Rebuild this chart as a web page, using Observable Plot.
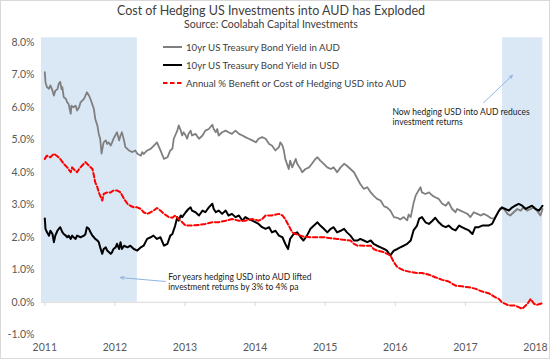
<!DOCTYPE html>
<html><head><meta charset="utf-8">
<script src="https://cdn.jsdelivr.net/npm/d3@7"></script>
<script src="https://cdn.jsdelivr.net/npm/@observablehq/plot@0.6"></script>
<style>
body{margin:0;background:#fff;}
#wrap{position:relative;width:550px;height:359px;font-family:Lato,"Open Sans",sans-serif;overflow:hidden;background:#fff;}
#frame{position:absolute;left:0;top:0;width:548px;height:357px;border:1px solid #d9d9d9;pointer-events:none;}
.t{position:absolute;left:0;width:542px;text-align:center;color:#404040;white-space:nowrap;}
#title{top:3px;font-size:12.5px;line-height:15px;}
#sub{top:18px;font-size:10.5px;line-height:13px;}
.lg{position:absolute;left:163px;height:14px;display:flex;align-items:center;font-size:9.7px;color:#404040;white-space:nowrap;}
.lg svg{margin-right:4px;}
#chart{position:absolute;left:0;top:0;}
</style></head>
<body><div id="wrap">
<div id="chart"></div>
<div class="t" id="title"></div>
<div class="t" id="sub"></div>
<div id="legend"></div>
<div id="frame"></div>
</div>
<script>
const titleText = "Cost of Hedging US Investments into AUD has Exploded";
const subtitleText = "Source: Coolabah Capital Investments";
const seriesNames = ["10yr US Treasury Bond Yield in AUD","10yr US Treasury Bond Yield in USD","Annual % Benefit or Cost of Hedging USD into AUD"];
const yearTicks = [2011,2012,2013,2014,2015,2016,2017,2018];
const pctTicks = [-1,0,1,2,3,4,5,6,7,8];
const shadedPeriods = [[2010.953,2012.32],[2017.53,2018.104]];

const yieldAUD = [[2011.00,7.08],[2011.01,6.77],[2011.03,6.62],[2011.06,6.57],[2011.08,6.67],[2011.11,6.51],[2011.13,6.36],[2011.15,6.51],[2011.18,6.55],[2011.20,6.72],[2011.22,6.78],[2011.24,6.55],[2011.25,6.62],[2011.27,6.31],[2011.30,6.26],[2011.32,6.15],[2011.34,6.10],[2011.37,5.80],[2011.38,6.05],[2011.41,6.00],[2011.44,6.05],[2011.46,5.90],[2011.49,6.00],[2011.51,6.15],[2011.56,6.26],[2011.60,6.46],[2011.63,6.36],[2011.65,6.26],[2011.70,5.95],[2011.72,5.64],[2011.75,5.44],[2011.77,5.18],[2011.79,5.03],[2011.81,4.57],[2011.83,4.82],[2011.84,4.92],[2011.87,4.98],[2011.89,4.87],[2011.91,4.92],[2011.94,4.82],[2011.96,4.92],[2011.98,5.03],[2012.03,5.23],[2012.06,4.98],[2012.08,5.13],[2012.10,5.23],[2012.13,4.98],[2012.15,4.77],[2012.20,4.67],[2012.25,4.62],[2012.29,4.67],[2012.32,4.57],[2012.37,4.51],[2012.39,4.62],[2012.41,4.56],[2012.46,4.67],[2012.51,4.72],[2012.58,4.87],[2012.60,4.92],[2012.63,4.77],[2012.65,4.67],[2012.70,4.41],[2012.75,4.46],[2012.79,4.67],[2012.82,4.72],[2012.84,5.03],[2012.86,5.13],[2012.89,5.28],[2012.91,5.44],[2012.94,5.28],[2012.96,5.13],[2012.98,5.23],[2013.01,5.13],[2013.03,5.03],[2013.05,5.18],[2013.08,5.28],[2013.10,5.13],[2013.15,5.18],[2013.20,5.03],[2013.25,5.13],[2013.29,5.28],[2013.34,5.33],[2013.39,5.46],[2013.41,5.33],[2013.44,5.23],[2013.46,5.33],[2013.48,5.13],[2013.53,5.23],[2013.58,5.28],[2013.62,5.23],[2013.67,5.18],[2013.72,5.28],[2013.77,5.18],[2013.82,5.13],[2013.86,5.08],[2013.91,5.03],[2013.96,4.98],[2014.01,4.92],[2014.05,5.03],[2014.10,5.08],[2014.15,5.03],[2014.20,4.87],[2014.24,4.82],[2014.29,4.67],[2014.34,4.77],[2014.36,4.92],[2014.39,4.82],[2014.41,4.67],[2014.43,4.41],[2014.48,4.10],[2014.50,4.36],[2014.53,4.15],[2014.58,4.41],[2014.60,4.26],[2014.65,4.10],[2014.67,4.00],[2014.72,4.10],[2014.77,4.15],[2014.81,4.26],[2014.86,4.41],[2014.89,4.46],[2014.93,4.36],[2014.98,4.26],[2015.03,4.15],[2015.08,4.10],[2015.12,4.15],[2015.17,4.00],[2015.22,4.15],[2015.27,4.26],[2015.31,4.20],[2015.36,4.10],[2015.41,4.00],[2015.46,3.80],[2015.50,3.64],[2015.55,3.49],[2015.60,3.54],[2015.65,3.38],[2015.69,3.28],[2015.74,3.18],[2015.79,3.13],[2015.84,2.95],[2015.88,2.92],[2015.93,2.82],[2015.98,2.62],[2016.03,2.60],[2016.07,2.55],[2016.12,2.62],[2016.17,2.52],[2016.19,2.70],[2016.22,2.62],[2016.26,3.05],[2016.29,3.28],[2016.34,3.47],[2016.36,3.54],[2016.38,3.38],[2016.43,3.33],[2016.48,3.38],[2016.53,3.28],[2016.57,3.23],[2016.62,3.18],[2016.67,3.03],[2016.72,2.97],[2016.76,3.08],[2016.81,2.87],[2016.86,2.77],[2016.88,2.87],[2016.93,2.82],[2016.98,2.77],[2017.03,2.72],[2017.07,2.62],[2017.12,2.77],[2017.17,2.72],[2017.22,2.67],[2017.26,2.72],[2017.31,2.67],[2017.36,2.59],[2017.41,2.57],[2017.45,2.72],[2017.50,2.89],[2017.55,2.87],[2017.60,2.72],[2017.64,2.67],[2017.69,2.77],[2017.74,2.87],[2017.79,2.82],[2017.83,2.92],[2017.88,2.82],[2017.93,2.87],[2017.98,2.92],[2018.02,2.82],[2018.07,2.67],[2018.10,2.87]];

const yieldUSD = [[2011.00,2.58],[2011.01,2.26],[2011.03,2.16],[2011.06,2.05],[2011.08,2.20],[2011.11,2.10],[2011.13,1.85],[2011.15,2.05],[2011.18,2.20],[2011.20,2.26],[2011.22,2.31],[2011.25,2.16],[2011.27,2.10],[2011.30,2.05],[2011.32,2.00],[2011.34,2.05],[2011.37,1.95],[2011.39,2.05],[2011.41,2.00],[2011.44,1.95],[2011.46,2.05],[2011.51,2.00],[2011.56,2.05],[2011.58,2.10],[2011.60,2.31],[2011.63,2.26],[2011.65,2.16],[2011.68,2.05],[2011.70,2.00],[2011.72,1.95],[2011.75,1.90],[2011.77,1.85],[2011.79,1.69],[2011.82,1.49],[2011.84,1.64],[2011.87,1.69],[2011.89,1.59],[2011.94,1.49],[2011.96,1.54],[2011.98,1.64],[2012.01,1.69],[2012.03,1.80],[2012.06,1.64],[2012.08,1.85],[2012.10,1.64],[2012.13,1.74],[2012.18,1.69],[2012.22,1.74],[2012.27,1.64],[2012.32,1.59],[2012.37,1.69],[2012.41,1.74],[2012.46,1.95],[2012.51,2.00],[2012.55,2.05],[2012.60,1.95],[2012.65,2.00],[2012.70,1.74],[2012.75,1.80],[2012.79,2.05],[2012.82,2.10],[2012.86,2.36],[2012.89,2.62],[2012.91,2.51],[2012.94,2.67],[2012.96,2.62],[2013.01,2.77],[2013.05,2.87],[2013.08,2.92],[2013.10,2.82],[2013.15,2.77],[2013.20,2.67],[2013.25,2.82],[2013.29,2.77],[2013.34,2.92],[2013.39,3.03],[2013.41,2.87],[2013.44,2.77],[2013.48,2.82],[2013.53,2.72],[2013.58,2.82],[2013.62,2.67],[2013.67,2.72],[2013.72,2.62],[2013.77,2.67],[2013.82,2.51],[2013.86,2.62],[2013.91,2.56],[2013.96,2.51],[2014.01,2.46],[2014.05,2.41],[2014.10,2.31],[2014.15,2.26],[2014.20,2.31],[2014.24,2.15],[2014.29,2.20],[2014.34,2.05],[2014.39,2.00],[2014.43,1.80],[2014.47,1.64],[2014.50,1.95],[2014.55,2.10],[2014.60,2.15],[2014.65,2.00],[2014.69,1.90],[2014.74,2.05],[2014.79,2.26],[2014.84,2.36],[2014.89,2.46],[2014.93,2.36],[2014.98,2.26],[2015.03,2.15],[2015.08,2.26],[2015.12,2.31],[2015.17,2.15],[2015.22,2.20],[2015.27,2.26],[2015.31,2.15],[2015.36,2.05],[2015.41,1.90],[2015.46,1.90],[2015.50,1.95],[2015.55,1.90],[2015.60,1.85],[2015.65,1.90],[2015.69,1.80],[2015.74,1.74],[2015.79,1.69],[2015.84,1.64],[2015.88,1.59],[2015.93,1.44],[2015.96,1.54],[2015.98,1.59],[2016.03,1.64],[2016.07,1.69],[2016.12,1.74],[2016.17,1.80],[2016.22,1.90],[2016.26,2.21],[2016.31,2.36],[2016.34,2.57],[2016.38,2.62],[2016.43,2.46],[2016.48,2.41],[2016.53,2.51],[2016.57,2.60],[2016.62,2.46],[2016.67,2.36],[2016.72,2.31],[2016.76,2.36],[2016.81,2.26],[2016.86,2.21],[2016.91,2.36],[2016.95,2.31],[2017.00,2.26],[2017.05,2.21],[2017.10,2.10],[2017.14,2.31],[2017.19,2.31],[2017.24,2.36],[2017.29,2.36],[2017.33,2.36],[2017.38,2.41],[2017.43,2.62],[2017.48,2.82],[2017.52,2.92],[2017.57,2.87],[2017.62,2.82],[2017.67,2.92],[2017.71,2.97],[2017.76,3.03],[2017.81,2.97],[2017.86,2.87],[2017.90,2.92],[2017.95,2.97],[2018.00,2.87],[2018.05,2.82],[2018.10,2.97]];

const hedgeBenefit = [[2011.00,4.41],[2011.03,4.51],[2011.08,4.46],[2011.13,4.57],[2011.18,4.49],[2011.22,4.41],[2011.27,4.26],[2011.32,4.15],[2011.37,4.00],[2011.39,4.15],[2011.41,4.10],[2011.46,4.00],[2011.49,4.10],[2011.53,4.20],[2011.58,4.31],[2011.63,4.20],[2011.68,4.10],[2011.70,3.90],[2011.72,3.69],[2011.75,3.54],[2011.77,3.38],[2011.79,3.28],[2011.82,3.13],[2011.84,3.33],[2011.89,3.38],[2011.94,3.38],[2011.98,3.44],[2012.03,3.44],[2012.08,3.38],[2012.13,3.18],[2012.18,3.03],[2012.22,2.97],[2012.27,2.92],[2012.32,2.92],[2012.37,2.87],[2012.41,2.77],[2012.46,2.72],[2012.51,2.77],[2012.55,2.82],[2012.60,2.90],[2012.65,2.82],[2012.70,2.72],[2012.75,2.65],[2012.77,2.62],[2012.82,2.60],[2012.86,2.67],[2012.91,2.56],[2012.96,2.46],[2013.01,2.36],[2013.05,2.36],[2013.10,2.36],[2013.20,2.38],[2013.29,2.41],[2013.39,2.46],[2013.48,2.46],[2013.58,2.51],[2013.67,2.56],[2013.77,2.51],[2013.86,2.51],[2013.96,2.56],[2014.05,2.51],[2014.10,2.56],[2014.15,2.67],[2014.24,2.67],[2014.34,2.72],[2014.39,2.67],[2014.43,2.56],[2014.48,2.36],[2014.53,2.15],[2014.58,2.10],[2014.65,2.05],[2014.69,2.02],[2014.79,2.00],[2014.89,2.00],[2014.98,2.00],[2015.08,1.97],[2015.17,1.95],[2015.27,1.92],[2015.36,1.90],[2015.41,1.80],[2015.46,1.74],[2015.50,1.75],[2015.55,1.74],[2015.65,1.74],[2015.69,1.64],[2015.74,1.59],[2015.84,1.54],[2015.93,1.44],[2015.98,1.23],[2016.03,1.08],[2016.12,0.98],[2016.22,0.93],[2016.31,0.90],[2016.38,0.90],[2016.48,0.85],[2016.57,0.77],[2016.67,0.69],[2016.76,0.64],[2016.86,0.51],[2016.95,0.49],[2017.05,0.46],[2017.14,0.42],[2017.24,0.33],[2017.33,0.28],[2017.43,0.15],[2017.48,0.10],[2017.52,0.00],[2017.57,-0.05],[2017.62,-0.10],[2017.71,-0.10],[2017.76,-0.15],[2017.81,-0.20],[2017.86,-0.10],[2017.90,0.00],[2017.93,0.10],[2017.98,-0.05],[2018.02,-0.08],[2018.10,-0.03]];

const noteLines = [
  {x:2015.96, y:5.83, text:"Now hedging USD into AUD reduces"},
  {x:2015.96, y:5.53, text:"investment returns"},
  {x:2012.76, y:0.78, text:"For years hedging USD into AUD lifted"},
  {x:2012.76, y:0.46, text:"investment returns by 3% to 4% pa"}
];
const noteArrows = [
  {x1:2017.26, y1:6.14, x2:2017.67, y2:6.98},
  {x1:2012.72, y1:0.64, x2:2012.08, y2:0.76}
];

const colors = ["#7f7f7f","#000000","#ff0000"];

document.getElementById("title").textContent = titleText;
document.getElementById("sub").textContent = subtitleText;

const lg = document.getElementById("legend");
seriesNames.forEach((name,i)=>{
  const row = document.createElement("div");
  row.className = "lg";
  row.style.top = (39.5 + i*18) + "px";
  const dash = i===2 ? 'stroke-dasharray="4.5,2.5"' : '';
  row.innerHTML = `<svg width="19" height="6"><line x1="0" y1="3" x2="19" y2="3" stroke="${colors[i]}" stroke-width="2" ${dash}/></svg><span>${name}</span>`;
  lg.appendChild(row);
});

const chart = Plot.plot({
  width: 550, height: 359,
  marginLeft: 41, marginRight: 7.7, marginTop: 41.7, marginBottom: 24.7,
  style: {fontFamily: "Lato, 'Open Sans', sans-serif", background: "transparent"},
  x: {domain: [2010.953, 2018.104]},
  y: {domain: [-1, 8]},
  marks: [
    Plot.rectY(shadedPeriods, {x1: d=>d[0], x2: d=>d[1], y1: 0, y2: 8.135, fill: "#dae7f5"}),
    Plot.ruleY([0], {stroke: "#d9d9d9", strokeWidth: 1}),
    Plot.ruleX(yearTicks, {x: d=>d, y1: 0, y2: -0.13, stroke: "#d9d9d9"}),
    Plot.axisX({ticks: yearTicks, tickSize: 0, tickPadding: 9, tickFormat: d=>String(d), fontSize: 10.5, color: "#595959", label: null}),
    Plot.axisY({ticks: pctTicks, tickSize: 0, tickPadding: 7, tickFormat: d=>d.toFixed(1)+"%", fontSize: 10.5, color: "#595959", label: null}),
    Plot.line(yieldAUD, {x: d=>d[0], y: d=>d[1], stroke: colors[0], strokeWidth: 1.8, curve: "linear"}),
    Plot.line(yieldUSD, {x: d=>d[0], y: d=>d[1], stroke: colors[1], strokeWidth: 2, curve: "linear"}),
    Plot.line(hedgeBenefit, {x: d=>d[0], y: d=>d[1], stroke: colors[2], strokeWidth: 2, strokeDasharray: "4.5,2.5"}),
    Plot.arrow(noteArrows, {x1:"x1", y1:"y1", x2:"x2", y2:"y2", stroke: "#8eb4e3", strokeWidth: 1, headLength: 5, headAngle: 50}),
    Plot.text(noteLines, {x:"x", y:"y", text:"text", textAnchor:"start", fontSize: 8.5, fill: "#1a1a1a"})
  ]
});
document.getElementById("chart").appendChild(chart);
</script>
</body></html>
